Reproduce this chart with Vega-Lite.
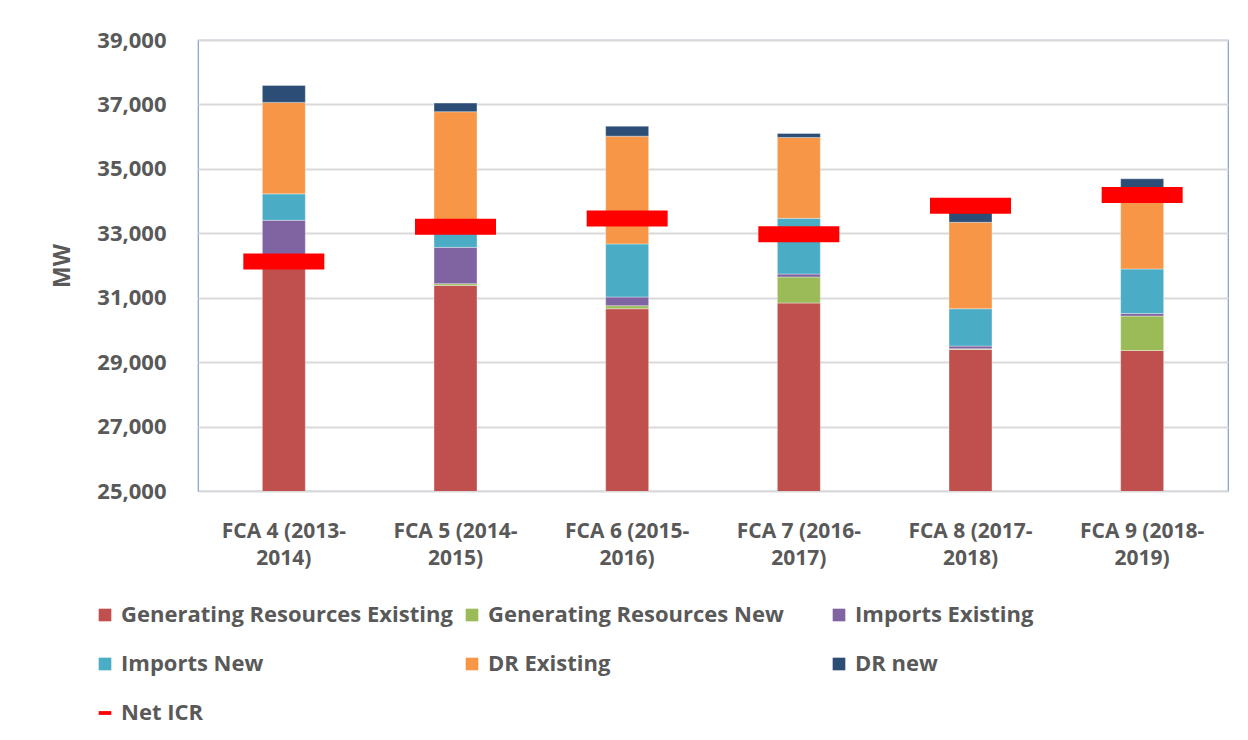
{
  "$schema": "https://vega.github.io/schema/vega-lite/v6.json",
  "width": 1030,
  "height": 451,
  "autosize": {"type": "none"},
  "padding": {"left": 198, "top": 40, "right": 20, "bottom": 249},
  "background": "white",
  "config": {
    "font": "Open Sans",
    "view": {"stroke": "#7f9fcf", "strokeWidth": 1.2},
    "axis": {"labelFont": "Open Sans", "titleFont": "Open Sans", "labelColor": "#595959", "titleColor": "#595959", "labelFontWeight": "bold", "titleFontWeight": "bold"},
    "legend": {"labelFont": "Open Sans", "labelFontSize": 22, "labelFontWeight": "bold", "labelColor": "#595959", "labelLimit": 400, "symbolStrokeWidth": 0, "labelOffset": 5}
  },
  "data": {"values": [
    {"cat": "FCA 4 (2013-2014)", "series": "Generating Resources Existing", "value": 31950},
    {"cat": "FCA 4 (2013-2014)", "series": "Generating Resources New", "value": 0},
    {"cat": "FCA 4 (2013-2014)", "series": "Imports Existing", "value": 1454},
    {"cat": "FCA 4 (2013-2014)", "series": "Imports New", "value": 820},
    {"cat": "FCA 4 (2013-2014)", "series": "DR Existing", "value": 2839},
    {"cat": "FCA 4 (2013-2014)", "series": "DR new", "value": 528},
    {"cat": "FCA 4 (2013-2014)", "series": "Net ICR", "value": 32127},
    {"cat": "FCA 5 (2014-2015)", "series": "Generating Resources Existing", "value": 31383},
    {"cat": "FCA 5 (2014-2015)", "series": "Generating Resources New", "value": 53},
    {"cat": "FCA 5 (2014-2015)", "series": "Imports Existing", "value": 1128},
    {"cat": "FCA 5 (2014-2015)", "series": "Imports New", "value": 861},
    {"cat": "FCA 5 (2014-2015)", "series": "DR Existing", "value": 3349},
    {"cat": "FCA 5 (2014-2015)", "series": "DR new", "value": 267},
    {"cat": "FCA 5 (2014-2015)", "series": "Net ICR", "value": 33200},
    {"cat": "FCA 6 (2015-2016)", "series": "Generating Resources Existing", "value": 30658},
    {"cat": "FCA 6 (2015-2016)", "series": "Generating Resources New", "value": 94},
    {"cat": "FCA 6 (2015-2016)", "series": "Imports Existing", "value": 270},
    {"cat": "FCA 6 (2015-2016)", "series": "Imports New", "value": 1648},
    {"cat": "FCA 6 (2015-2016)", "series": "DR Existing", "value": 3345},
    {"cat": "FCA 6 (2015-2016)", "series": "DR new", "value": 311},
    {"cat": "FCA 6 (2015-2016)", "series": "Net ICR", "value": 33456},
    {"cat": "FCA 7 (2016-2017)", "series": "Generating Resources Existing", "value": 30835},
    {"cat": "FCA 7 (2016-2017)", "series": "Generating Resources New", "value": 809},
    {"cat": "FCA 7 (2016-2017)", "series": "Imports Existing", "value": 92},
    {"cat": "FCA 7 (2016-2017)", "series": "Imports New", "value": 1730},
    {"cat": "FCA 7 (2016-2017)", "series": "DR Existing", "value": 2509},
    {"cat": "FCA 7 (2016-2017)", "series": "DR new", "value": 124},
    {"cat": "FCA 7 (2016-2017)", "series": "Net ICR", "value": 32968},
    {"cat": "FCA 8 (2017-2018)", "series": "Generating Resources Existing", "value": 29393},
    {"cat": "FCA 8 (2017-2018)", "series": "Generating Resources New", "value": 22},
    {"cat": "FCA 8 (2017-2018)", "series": "Imports Existing", "value": 84},
    {"cat": "FCA 8 (2017-2018)", "series": "Imports New", "value": 1159},
    {"cat": "FCA 8 (2017-2018)", "series": "DR Existing", "value": 2684},
    {"cat": "FCA 8 (2017-2018)", "series": "DR new", "value": 332},
    {"cat": "FCA 8 (2017-2018)", "series": "Net ICR", "value": 33855},
    {"cat": "FCA 9 (2018-2019)", "series": "Generating Resources Existing", "value": 29362},
    {"cat": "FCA 9 (2018-2019)", "series": "Generating Resources New", "value": 1069},
    {"cat": "FCA 9 (2018-2019)", "series": "Imports Existing", "value": 81},
    {"cat": "FCA 9 (2018-2019)", "series": "Imports New", "value": 1381},
    {"cat": "FCA 9 (2018-2019)", "series": "DR Existing", "value": 2307},
    {"cat": "FCA 9 (2018-2019)", "series": "DR new", "value": 491},
    {"cat": "FCA 9 (2018-2019)", "series": "Net ICR", "value": 34189}
  ]},
  "encoding": {
    "x": {
      "field": "cat", "type": "nominal", "sort": null, "title": null,
      "scale": {"paddingInner": 0, "paddingOuter": 0},
      "axis": {"labelAngle": 0, "ticks": false, "domain": false, "labelFontSize": 21, "labelPadding": 29, "labelLineHeight": 27,
               "labelExpr": "[slice(datum.label, 0, 12), slice(datum.label, 12)]"}
    }
  },
  "layer": [
    {
      "transform": [
        {"filter": "datum.series !== 'Net ICR'"},
        {"calculate": "indexof(['Generating Resources Existing','Generating Resources New','Imports Existing','Imports New','DR Existing','DR new'], datum.series)", "as": "ord"}
      ],
      "mark": {"type": "bar", "size": 43, "clip": true, "stroke": "white", "strokeWidth": 0.6, "strokeOpacity": 0.6},
      "encoding": {
        "y": {
          "field": "value", "type": "quantitative", "stack": "zero", "title": "MW",
          "scale": {"domain": [25000, 39000], "zero": false, "nice": false},
          "axis": {"values": [25000, 27000, 29000, 31000, 33000, 35000, 37000, 39000], "format": ",d",
                   "labelFontSize": 22, "titleFontSize": 23, "ticks": false, "domain": false, "labelPadding": 32, "titlePadding": 22,
                   "gridColor": "#d9d9d9", "gridWidth": 2}
        },
        "color": {
          "field": "series", "type": "nominal", "title": null,
          "scale": {
            "domain": ["Generating Resources Existing", "Generating Resources New", "Imports Existing", "Imports New", "DR Existing", "DR new"],
            "range": ["#C0504D", "#9BBB59", "#8064A2", "#4BACC6", "#F79646", "#2C4D75"]
          },
          "legend": {
            "orient": "none", "legendX": -104, "legendY": 564, "columns": 3, "direction": "horizontal", "gridAlign": "all",
            "symbolType": "square", "symbolSize": 160, "columnPadding": 8, "rowPadding": 27
          }
        },
        "order": {"field": "ord", "type": "quantitative", "sort": "ascending"}
      }
    },
    {
      "transform": [{"filter": "datum.series === 'Net ICR'"}],
      "mark": {"type": "tick", "size": 81, "thickness": 16, "opacity": 1},
      "encoding": {
        "y": {"field": "value", "type": "quantitative"},
        "fill": {
          "field": "series", "type": "nominal", "title": null,
          "scale": {"domain": ["Net ICR"], "range": ["#FF0000"]},
          "legend": {
            "orient": "none", "legendX": -104, "legendY": 662, "direction": "horizontal",
            "symbolType": "M-1,-0.3H1V0.3H-1Z", "symbolSize": 160
          }
        }
      }
    }
  ]
}
